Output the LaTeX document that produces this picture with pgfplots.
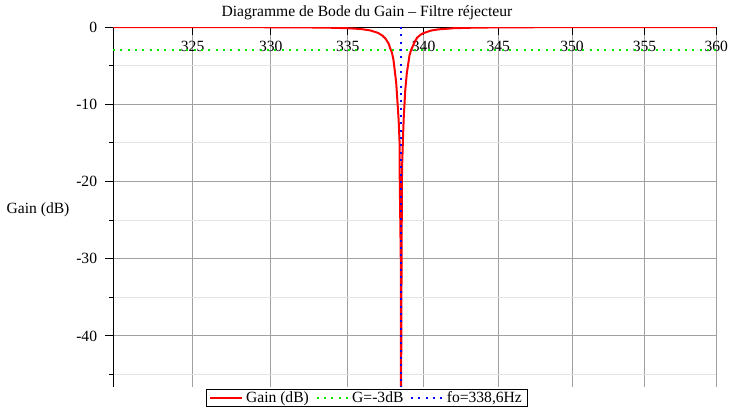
\documentclass[border=0pt]{standalone}
\usepackage{fontspec}
\setmainfont{Liberation Serif}
\usepackage{pgfplots}
\pgfplotsset{compat=1.18}
\definecolor{gridmaj}{RGB}{160,160,160}
\definecolor{gridmin}{RGB}{228,228,228}
\definecolor{gainred}{RGB}{255,0,0}
\definecolor{levgreen}{RGB}{0,230,0}
\definecolor{fblue}{RGB}{0,0,255}
\newcommand{\chartfont}{\fontsize{11.7}{13}\selectfont}

\begin{document}
\begin{tikzpicture}
\useasboundingbox (-84.9pt,-24.75pt) rectangle (465.6pt,290.2pt);
\begin{axis}[
    scale only axis,
    width=452.3pt, height=269.9pt,
    % log scale in x, done by hand (the range is too narrow for xmode=log)
    x coord trafo/.code={\pgfmathparse{ln(#1)}},
    x coord inv trafo/.code={\pgfmathparse{exp(#1)}},
    xmin=320, xmax=360, ymin=-46.6, ymax=0,
    axis x line=top, axis y line=left,
    axis line style={-, black, line width=0.75pt},
    xtick={325,330,335,340,345,350,355,360},
    xticklabels={325,330,335,340,345,350,355,360},
    ytick={-40,-30,-20,-10,0},
    yticklabels={-40,-30,-20,-10,0},
    minor ytick={-45,-35,-25,-15,-5},
    xtick align=inside, ytick align=outside,
    major tick length=6pt, minor tick length=3pt,
    tick style={black, line width=0.75pt},
    xmajorgrids, ymajorgrids, yminorgrids,
    major grid style={gridmaj, line width=0.75pt},
    minor grid style={gridmin, line width=0.75pt},
    tick label style={font=\chartfont},
    xticklabel style={anchor=base, yshift=-18.4pt},
    yticklabel style={anchor=east, inner sep=0pt, xshift=-5.9pt},
    title={Diagramme de Bode du Gain – Filtre réjecteur},
    title style={font=\chartfont, at={(axis description cs:0.4208,1)}, anchor=base, yshift=2.1pt, inner sep=0pt, outer sep=0pt},
    ylabel={Gain (dB)},
    ylabel style={font=\chartfont, at={(axis description cs:-0.1247,0.4937)}, rotate=-90, anchor=center},
    legend style={at={(axis description cs:0.4208,-0.0064)}, anchor=north,
        legend columns=3, draw=black, line width=0.75pt,
        font=\chartfont, inner xsep=2pt, inner ysep=0.5pt,
        nodes={inner ysep=1pt, inner xsep=2pt},
        /tikz/every even column/.append style={column sep=3pt}},
    legend image code/.code={\draw[#1] (0pt,0pt) -- (24pt,0pt);},
]
\addplot[gainred, line width=1.5pt] coordinates {
(320,-0.006) (322,-0.007) (325,-0.010) (327,-0.014) (330,-0.026)
(332,-0.044) (333,-0.062) (334,-0.092) (335,-0.151) (335.5,-0.203)
(336,-0.289) (336.5,-0.442) (337,-0.753) (337.3,-1.119) (337.5,-1.523)
(337.7,-2.175) (337.8,-2.655) (337.9,-3.298) (338.0,-4.178) (338.1,-5.413)
(338.2,-7.217) (338.3,-10.01) (338.35,-12.08) (338.4,-14.96) (338.45,-19.55)
(338.5,-30.39) (338.52,-60) (338.55,-26.87) (338.6,-18.41) (338.65,-14.29)
(338.7,-11.61) (338.8,-8.18) (338.9,-6.05) (339.0,-4.619) (339.1,-3.615)
(339.2,-2.890) (339.4,-1.944) (339.6,-1.382) (339.8,-1.027) (340.0,-0.790)
(340.5,-0.459) (341,-0.298) (342,-0.154) (343,-0.094) (344,-0.063)
(345,-0.045) (347,-0.026) (350,-0.014) (355,-0.007) (360,-0.004)
};
\addlegendentry{Gain (dB)}
\addplot[levgreen, line width=1.5pt, dash pattern=on 1.5pt off 4pt] coordinates {(320,-3) (360,-3)};
\addlegendentry{G=-3dB}
\addplot[fblue, line width=1.5pt, dash pattern=on 1.5pt off 4pt] coordinates {(338.52,0) (338.52,-46.6)};
\addlegendentry{fo=338,6Hz}
\end{axis}
\end{tikzpicture}
\end{document}
